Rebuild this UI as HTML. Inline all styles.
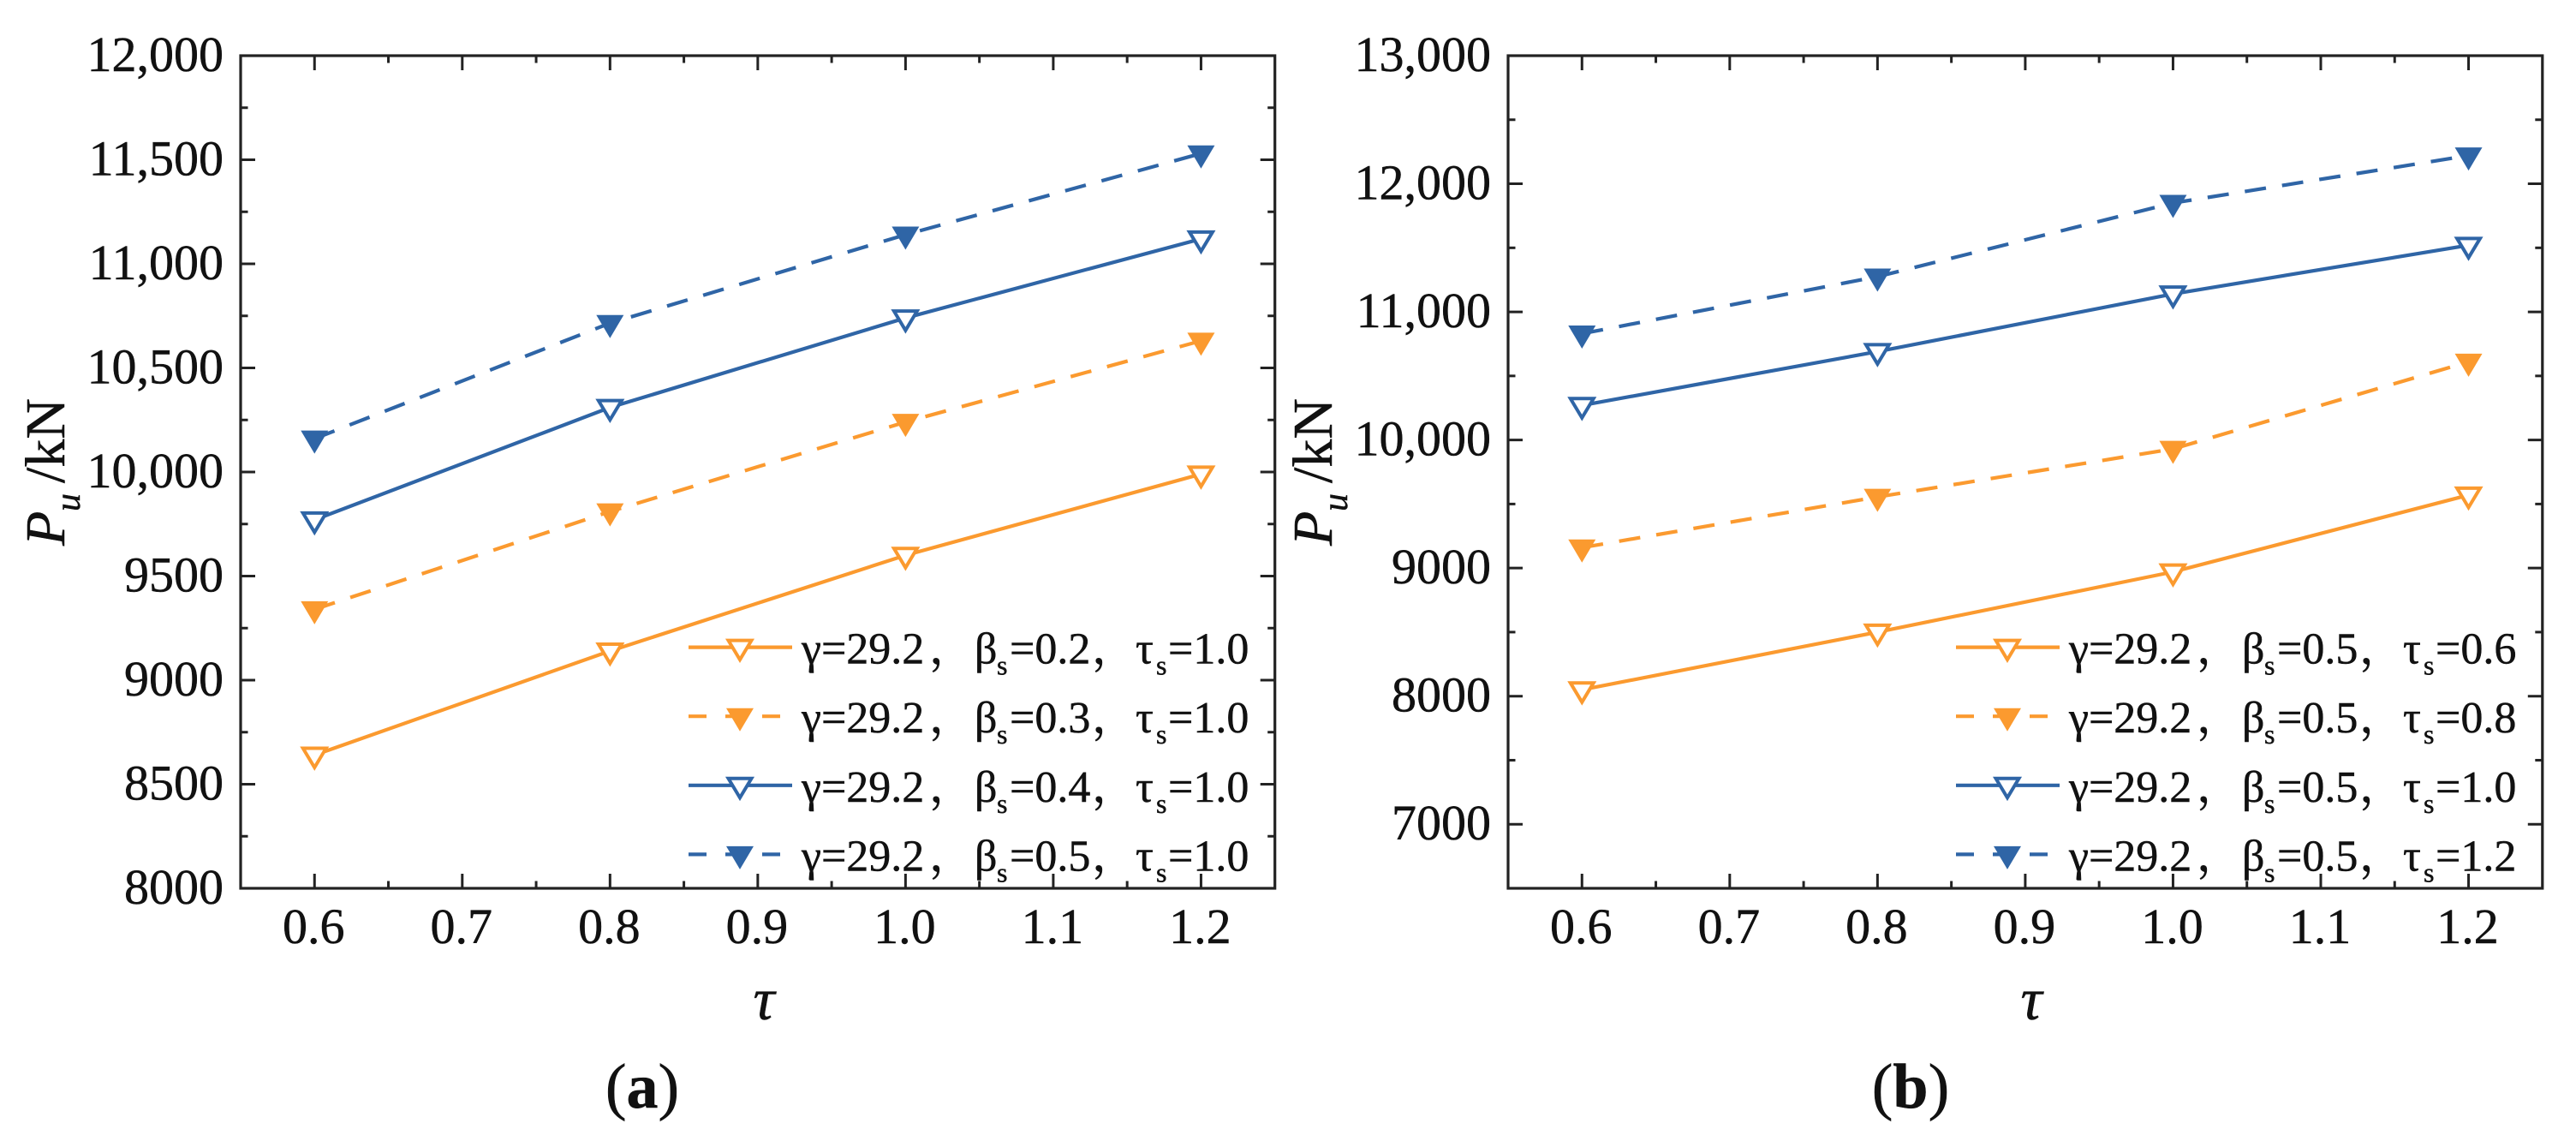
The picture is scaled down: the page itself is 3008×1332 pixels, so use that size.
<!DOCTYPE html>
<html>
<head>
<meta charset="utf-8">
<title>Pu versus tau charts</title>
<style>
html,body{margin:0;padding:0;background:#fff;}
body{width:3008px;height:1332px;overflow:hidden;}
svg{display:block;}
text{font-family:"Liberation Serif","Noto Serif CJK SC",serif;fill:#111;stroke:#111;stroke-width:0.5px;}
</style>
</head>
<body>
<svg id="figure" xmlns="http://www.w3.org/2000/svg" width="3008" height="1332" viewBox="0 0 3008 1332"></svg>
<script>
// ---- shared categories and tick labels ----
const tauCategories = [0.6, 0.8, 1.0, 1.2];
const xTickLabels = [0.6, 0.7, 0.8, 0.9, 1.0, 1.1, 1.2];
const xMinorTicks = [0.65, 0.75, 0.85, 0.95, 1.05, 1.15];

// ---- panel (a) data ----
const aOrangeSolid = [8640, 9140, 9600, 9990];
const aOrangeDashed = [9340, 9810, 10240, 10630];
const aBlueSolid = [9770, 10310, 10740, 11120];
const aBlueDashed = [10160, 10715, 11140, 11530];
const aYTicks = [8000, 8500, 9000, 9500, 10000, 10500, 11000, 11500, 12000];
const aYMinorTicks = [8250, 8750, 9250, 9750, 10250, 10750, 11250, 11750];
const aBeta = ["0.2", "0.3", "0.4", "0.5"];
const aTauS = ["1.0", "1.0", "1.0", "1.0"];

// ---- panel (b) data ----
const bOrangeSolid = [8050, 8500, 8970, 9570];
const bOrangeDashed = [9160, 9555, 9930, 10610];
const bBlueSolid = [10270, 10690, 11140, 11520];
const bBlueDashed = [10830, 11275, 11850, 12220];
const bYTicks = [7000, 8000, 9000, 10000, 11000, 12000, 13000];
const bYMinorTicks = [6500, 7500, 8500, 9500, 10500, 11500, 12500];
const bBeta = ["0.5", "0.5", "0.5", "0.5"];
const bTauS = ["0.6", "0.8", "1.0", "1.2"];

const ORANGE = "#FB9A2F";
const BLUE = "#2F65A6";
const AXIS = "#222";
const NS = "http://www.w3.org/2000/svg";
const svg = document.getElementById("figure");

function make(parent, tag, attrs, content) {
  const node = document.createElementNS(NS, tag);
  for (const k in attrs) node.setAttribute(k, attrs[k]);
  if (content !== undefined) node.textContent = content;
  parent.appendChild(node);
  return node;
}
function fmt(v) {
  return v >= 10000 ? v.toLocaleString("en-US") : String(v);
}
function trianglePoints(cx, cy, open) {
  if (open) {
    return [[cx - 13.5, cy - 8], [cx + 13.5, cy - 8], [cx, cy + 14.5]].map(p => p.join(",")).join(" ");
  }
  return [[cx - 16, cy - 9.5], [cx + 16, cy - 9.5], [cx, cy + 17.5]].map(p => p.join(",")).join(" ");
}
function drawMarker(parent, cx, cy, color, open) {
  const m = make(parent, "polygon", {
    points: trianglePoints(cx, cy, open),
    fill: open ? "#fff" : color,
    stroke: open ? color : "none",
    "stroke-width": open ? 4 : 0
  });
  
  
  return m;
}

function drawPanel(cfg) {
  const L = cfg.left, R = cfg.right, T = 65, B = 1037;
  const xScale = v => L + (v - 0.55) / (1.25 - 0.55) * (R - L);
  const yScale = v => B - (v - cfg.yMin) / (cfg.yMax - cfg.yMin) * (B - T);

  const panel = make(svg, "g", {});
  
  

  // series lines and markers
  const series = [
    { values: cfg.s1, color: ORANGE, dashed: false, open: true, key: "orange-solid" },
    { values: cfg.s2, color: ORANGE, dashed: true, open: false, key: "orange-dashed" },
    { values: cfg.s3, color: BLUE, dashed: false, open: true, key: "blue-solid" },
    { values: cfg.s4, color: BLUE, dashed: true, open: false, key: "blue-dashed" }
  ];
  series.forEach(s => {
    const g = make(panel, "g", {});
    
    
    const pts = s.values.map((v, i) => xScale(tauCategories[i]) + "," + yScale(v)).join(" ");
    const line = make(g, "polyline", {
      points: pts, fill: "none", stroke: s.color, "stroke-width": 4.2,
      "stroke-dasharray": s.dashed ? "25 19" : "none"
    });
    
    
    s.values.forEach((v, i) => drawMarker(g, xScale(tauCategories[i]), yScale(v), s.color, s.open));
  });

  // frame
  const frame = make(panel, "rect", { x: L, y: T, width: R - L, height: B - T, fill: "none", stroke: AXIS, "stroke-width": 3.2 });
  
  

  // x ticks
  xTickLabels.forEach(v => {
    const x = xScale(v);
    const t1 = make(panel, "line", { x1: x, x2: x, y1: B, y2: B - 17, stroke: AXIS, "stroke-width": 3 });
    
    
    const t2 = make(panel, "line", { x1: x, x2: x, y1: T, y2: T + 17, stroke: AXIS, "stroke-width": 3 });
    
    
    const lab = make(panel, "text", { x: x - 1, y: 1101, "font-size": 58, "text-anchor": "middle" }, v.toFixed(1));
    
    
  });
  xMinorTicks.forEach(v => {
    const x = xScale(v);
    const t1 = make(panel, "line", { x1: x, x2: x, y1: B, y2: B - 8.5, stroke: AXIS, "stroke-width": 3 });
    
    
    const t2 = make(panel, "line", { x1: x, x2: x, y1: T, y2: T + 8.5, stroke: AXIS, "stroke-width": 3 });
    
    
  });

  // y ticks
  cfg.yTicks.forEach(v => {
    const y = yScale(v);
    const t1 = make(panel, "line", { x1: L, x2: L + 17, y1: y, y2: y, stroke: AXIS, "stroke-width": 3 });
    
    
    const t2 = make(panel, "line", { x1: R, x2: R - 17, y1: y, y2: y, stroke: AXIS, "stroke-width": 3 });
    
    
    const lab = make(panel, "text", { x: L - 20, y: y + 18, "font-size": 58, "text-anchor": "end" }, fmt(v));
    
    
  });
  cfg.yMinor.forEach(v => {
    const y = yScale(v);
    const t1 = make(panel, "line", { x1: L, x2: L + 8.5, y1: y, y2: y, stroke: AXIS, "stroke-width": 3 });
    
    
    const t2 = make(panel, "line", { x1: R, x2: R - 8.5, y1: y, y2: y, stroke: AXIS, "stroke-width": 3 });
    
    
  });

  // axis titles
  const xt = make(panel, "text", { x: L + 611, y: 1190, "font-size": 70, "font-style": "italic", "text-anchor": "middle" }, "τ");
  
  

  const yt = make(panel, "text", { transform: "translate(" + (L - 206) + ",637) rotate(-90)", "font-size": 66 });
  
  
  make(yt, "tspan", { x: 0, y: 0, "font-style": "italic" }, "P");
  make(yt, "tspan", { x: 40, y: 18, "font-style": "italic", "font-size": 42 }, "u");
  make(yt, "tspan", { x: 73, y: 0 }, "/kN");

  // legend
  const OX = cfg.legendOffset;
  series.forEach((s, i) => {
    const rowY = 755.6 + i * 80.6;
    const g = make(panel, "g", {});
    
    
    const sample = make(g, "line", {
      x1: 804 + OX, x2: (s.dashed ? 912 : 925) + OX, y1: rowY, y2: rowY,
      stroke: s.color, "stroke-width": 4.2,
      "stroke-dasharray": s.dashed ? "21 22" : "none"
    });
    
    
    drawMarker(g, 864 + OX, rowY, s.color, s.open);
    const base = rowY + 19;
    const txt = make(g, "text", { y: base, "font-size": 52 });
    
    
    make(txt, "tspan", { x: 936 + OX, y: base }, "γ=29.2");
    make(txt, "tspan", { x: 1085 + OX, y: base }, "，");
    make(txt, "tspan", { x: 1138 + OX, y: base }, "β");
    make(txt, "tspan", { x: 1164 + OX, y: base + 13, "font-size": 32 }, "s");
    make(txt, "tspan", { x: 1179 + OX, y: base }, "=" + cfg.beta[i]);
    make(txt, "tspan", { x: 1275 + OX, y: base }, "，");
    make(txt, "tspan", { x: 1326 + OX, y: base }, "τ");
    make(txt, "tspan", { x: 1350 + OX, y: base + 13, "font-size": 32 }, "s");
    make(txt, "tspan", { x: 1364 + OX, y: base }, "=" + cfg.tauS[i]);
  });
}

drawPanel({
  name: "chart-a", left: 281, right: 1488.7, yMin: 8000, yMax: 12000,
  s1: aOrangeSolid, s2: aOrangeDashed, s3: aBlueSolid, s4: aBlueDashed,
  yTicks: aYTicks, yMinor: aYMinorTicks, beta: aBeta, tauS: aTauS, legendOffset: 0
});
drawPanel({
  name: "chart-b", left: 1761, right: 2968.8, yMin: 6500, yMax: 13000,
  s1: bOrangeSolid, s2: bOrangeDashed, s3: bBlueSolid, s4: bBlueDashed,
  yTicks: bYTicks, yMinor: bYMinorTicks, beta: bBeta, tauS: bTauS, legendOffset: 1480
});

// panel captions
const capA = make(svg, "text", { x: 750, y: 1293, "font-size": 74, "text-anchor": "middle" });


make(capA, "tspan", {}, "(");
make(capA, "tspan", { "font-weight": "bold" }, "a");
make(capA, "tspan", {}, ")");

const capB = make(svg, "text", { x: 2231, y: 1293, "font-size": 74, "text-anchor": "middle" });


make(capB, "tspan", {}, "(");
make(capB, "tspan", { "font-weight": "bold" }, "b");
make(capB, "tspan", {}, ")");
</script>
</body>
</html>
